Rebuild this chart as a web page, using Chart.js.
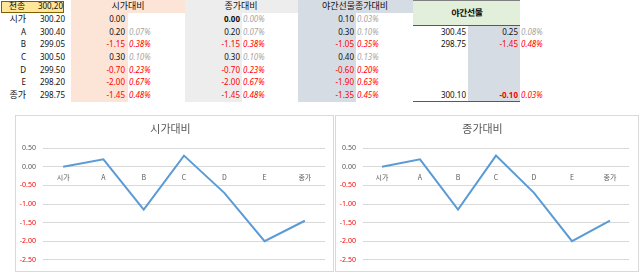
<!DOCTYPE html>
<html>
<head>
<meta charset="utf-8">
<script src="https://cdn.jsdelivr.net/npm/chart.js@4.4.1/dist/chart.umd.min.js"></script>
<style>
    body { margin: 0; width: 640px; height: 273px; background: #fff; position: relative; overflow: hidden;
           font-family: 'Noto Sans', 'Noto Sans CJK KR', sans-serif; }
    .t { position: absolute; white-space: nowrap; color: #111; font-size: 8px; }
    .k { font-family: 'Noto Sans CJK KR', sans-serif; font-size: 9px; }
    .bg { position: absolute; }
    .box { position: absolute; border: 1px solid #d9d9d9; box-sizing: border-box; background: #fff; }
    canvas { display: block; }
</style>
</head>
<body>
<div id="sheet"></div>
<div class="box" style="left:15px;top:115px;width:319px;height:157px"><canvas id="openChart" width="317" height="155"></canvas></div>
<div class="box" style="left:335px;top:115px;width:304px;height:157px"><canvas id="closeChart" width="302" height="155"></canvas></div>
<script>
// Sheet data
const rowLabels = ['시가', 'A', 'B', 'C', 'D', 'E', '종가'];
const prices = [300.20, 300.40, 299.05, 300.50, 299.50, 298.20, 298.75];
const openDiff = [0.00, 0.20, -1.15, 0.30, -0.70, -2.00, -1.45];
const openPct = [null, 0.07, 0.38, 0.10, 0.23, 0.67, 0.48];
const closeDiff = [0.00, 0.20, -1.15, 0.30, -0.70, -2.00, -1.45];
const closePct = [0.00, 0.07, 0.38, 0.10, 0.23, 0.67, 0.48];
const nightDiff = [0.10, 0.30, -1.05, 0.40, -0.60, -1.90, -1.35];
const nightPct = [0.03, 0.10, 0.35, 0.13, 0.20, 0.63, 0.45];
const nightRows = [1, 2, 6];
const nightPrices = [300.45, 298.75, 300.10];
const nightChange = [0.25, -1.45, -0.10];
const nightChangePct = [0.08, 0.48, 0.03];
const prevClose = '300,20';

// Chart axis
const yTicks = [0.5, 0, -0.5, -1, -1.5, -2, -2.5];

const sheet = document.getElementById('sheet');
const ROW_H = 12.67;
const rowTop = i => 13 + i * ROW_H;

function fill(x, y, w, h, color, extra) {
    const d = document.createElement('div');
    d.className = 'bg';
    d.style.cssText = `left:${x}px;top:${y}px;width:${w}px;height:${h}px;background:${color};` + (extra || '');
    sheet.appendChild(d);
}

function text(str, x, y, align, style, cls) {
    const d = document.createElement('div');
    d.className = 't' + (cls ? ' ' + cls : '');
    d.textContent = str;
    const w = 70;
    let left = x;
    if (align === 'right') left = x - w;
    if (align === 'center') left = x - w / 2;
    d.style.cssText = `left:${left}px;top:${y}px;width:${w}px;height:${ROW_H}px;line-height:${ROW_H}px;text-align:${align};` + (style || '');
    sheet.appendChild(d);
}

const RED = '#ff0000';
const GRAY = '#a6a6a6';

function num(v, x, y, bold) {
    let s = (v < 0 ? '-' : '') + Math.abs(v).toFixed(2);
    let st = v < 0 ? `color:${RED};` : '';
    if (bold) st += 'font-weight:700;';
    text(s, x, y, 'right', st);
}

function pct(p, neg, x, y) {
    if (p === null) return;
    text(p.toFixed(2) + '%', x, y, 'left', `font-style:italic;color:${neg ? RED : GRAY};`);
}

// backgrounds
fill(71, 0, 114, 13, '#fce4d6');
fill(71, 13, 57, 89, '#fce4d6');
fill(185, 0, 113, 13, '#ededed');
fill(185, 13, 57, 89, '#ededed');
fill(298, 0, 115, 13, '#d6dce4');
fill(298, 13, 58, 89, '#d6dce4');
fill(413, 0, 107, 26, '#e2efda', 'border-top:1px solid #808080;border-bottom:1px solid #595959;box-sizing:border-box;');
fill(468, 26, 52, 75, '#d6dce4');
fill(413, 101, 107, 1, '#595959');
fill(1, 1, 63, 12, '#ffe699', 'border:1px solid #7f6000;box-sizing:border-box;');

// header
text('천종', 17, 0, 'center', '', 'k');
text(prevClose, 63, 0, 'right');
text('시가대비', 128, 0, 'center', '', 'k');
text('종가대비', 241, 0, 'center', '', 'k');
text('야간선물종가대비', 355, 0, 'center', '', 'k');
text('야간선물', 467, 7, 'center', 'font-weight:700;letter-spacing:-0.5px;transform:rotate(-2deg);', 'k');

// rows
rowLabels.forEach((lab, i) => {
    const y = rowTop(i);
    text(lab, 26, y, 'right', '', lab.length > 1 ? 'k' : '');
    text(prices[i].toFixed(2), 65, y, 'right');
    num(openDiff[i], 125, y);
    pct(openPct[i], openDiff[i] < 0, 129, y);
    num(closeDiff[i], 240, y, i === 0);
    pct(closePct[i], closeDiff[i] < 0, 243, y);
    num(nightDiff[i], 354, y);
    pct(nightPct[i], nightDiff[i] < 0, 357, y);
});

nightRows.forEach((r, j) => {
    const y = rowTop(r);
    text(nightPrices[j].toFixed(2), 466, y, 'right');
    num(nightChange[j], 518, y, j === nightRows.length - 1);
    pct(nightChangePct[j], nightChange[j] < 0, 521, y);
});

// Charts
function makeChart(id, title, values, rightPad) {
    const ctx = document.getElementById(id).getContext('2d');
    return new Chart(ctx, {
        type: 'line',
        data: {
            labels: rowLabels,
            datasets: [{
                data: values,
                borderColor: '#5b9bd5',
                borderWidth: 2,
                pointRadius: 0,
                tension: 0,
                fill: false
            }]
        },
        options: {
            responsive: false,
            animation: false,
            devicePixelRatio: 1,
            layout: { padding: { left: 0, right: rightPad, top: 0, bottom: 9 } },
            plugins: {
                legend: { display: false },
                tooltip: { enabled: false },
                title: {
                    display: true,
                    text: title,
                    color: '#595959',
                    font: { family: "'Noto Sans CJK KR', sans-serif", size: 11, weight: 'normal' },
                    padding: { top: 6, bottom: 13 }
                }
            },
            scales: {
                x: {
                    type: 'category',
                    offset: true,
                    position: { y: 0 },
                    grid: { display: false, drawTicks: false },
                    border: { display: false },
                    ticks: {
                        color: '#595959',
                        padding: 6,
                        maxRotation: 0,
                        autoSkip: false,
                        font: { family: "'Noto Sans CJK KR', sans-serif", size: 7 }
                    }
                },
                y: {
                    min: yTicks[yTicks.length - 1],
                    max: yTicks[0],
                    afterFit: scale => { scale.width = 27; },
                    afterBuildTicks: scale => { scale.ticks = yTicks.map(v => ({ value: v })); },
                    grid: { color: '#d9d9d9', lineWidth: 1, drawTicks: false },
                    border: { display: false },
                    ticks: {
                        padding: 7,
                        color: c => c.tick.value < 0 ? RED : '#595959',
                        callback: v => v.toFixed(2),
                        font: { family: "'Noto Sans', sans-serif", size: 7 }
                    }
                }
            }
        }
    });
}

makeChart('openChart', '시가대비', openDiff, 8);
makeChart('closeChart', '종가대비', closeDiff, 9);
</script>
</body>
</html>
